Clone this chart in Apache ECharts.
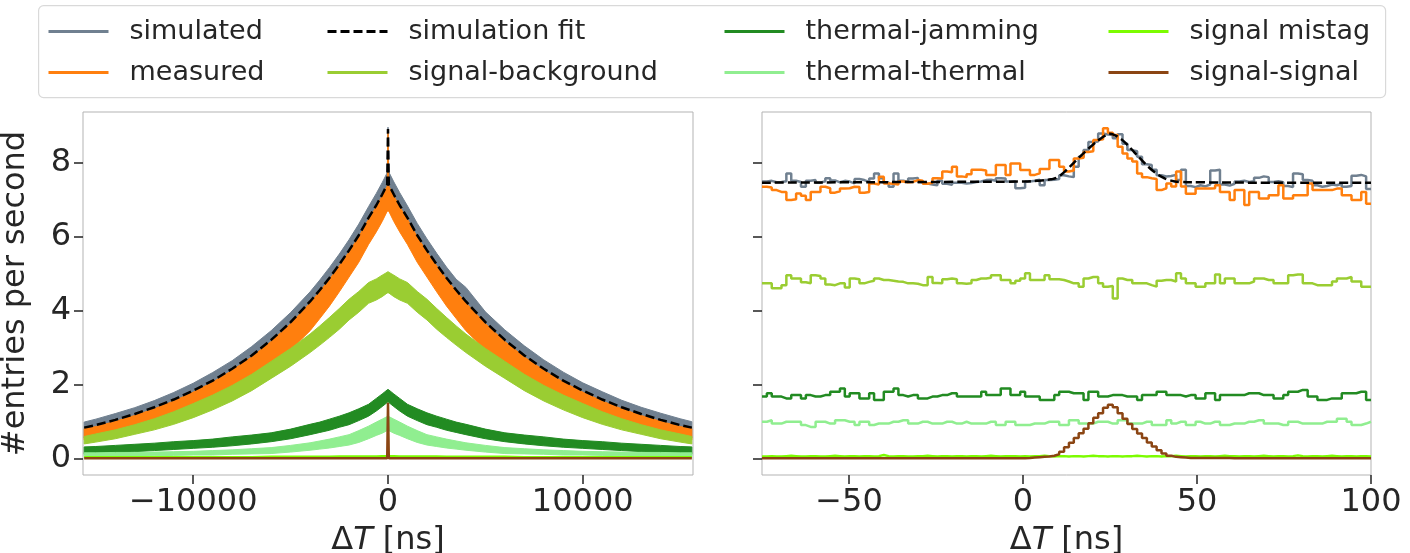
<!DOCTYPE html>
<html><head><meta charset="utf-8">
<script src="https://cdn.jsdelivr.net/npm/echarts@6/dist/echarts.min.js"></script>
<style>html,body{margin:0;padding:0;background:#fff}#c{width:1410px;height:553px}</style>
</head><body><div id="c"></div>
<script>
// ---------- tick labels ----------
const yTicks = [0, 2, 4, 6, 8];
const leftXTicks = [-10000, 0, 10000];
const rightXTicks = [-50, 0, 50, 100];
const legendNames = ['simulated', 'measured', 'simulation fit', 'signal-background',
                     'thermal-jamming', 'thermal-thermal', 'signal mistag', 'signal-signal'];

// ---------- left panel (wide range, ns) : band edges ----------
const leftT = [-15600,-15000,-14000,-13000,-12000,-11000,-10000,-9000,-8000,-7000,-6000,-5000,-4000,-3500,-3000,-2500,-2000,-1500,-1000,-600,-300,-40,0,40,300,600,1000,1500,2000,2500,3000,3500,4000,5000,6000,7000,8000,9000,10000,11000,12000,13000,14000,15000,15600];
const fitL   = [0.83,0.9,1.04,1.2,1.38,1.59,1.83,2.1,2.42,2.78,3.2,3.68,4.24,4.55,4.88,5.24,5.62,6.03,6.5,6.84,7.13,7.4,8.9,7.4,7.13,6.84,6.5,6.03,5.62,5.24,4.88,4.55,4.24,3.68,3.2,2.78,2.42,2.1,1.83,1.59,1.38,1.2,1.04,0.9,0.83];
const simHi  = [0.98,1.06,1.21,1.37,1.56,1.78,2.03,2.32,2.64,3.02,3.45,3.94,4.5,4.82,5.16,5.52,5.91,6.33,6.8,7.16,7.45,7.72,8.95,7.74,7.47,7.18,6.82,6.35,5.93,5.54,5.17,4.84,4.62,3.96,3.47,3.04,2.66,2.33,2.04,1.8,1.57,1.38,1.22,1.07,0.99];
const simLo  = [0.55,0.62,0.76,0.9,1.08,1.28,1.5,1.77,2.08,2.43,2.85,3.32,3.86,4.17,4.5,4.85,5.22,5.63,6.1,6.45,6.75,7.02,7.05,7.02,6.75,6.45,6.1,5.63,5.22,4.85,4.5,4.17,3.86,3.32,2.85,2.43,2.08,1.77,1.5,1.28,1.08,0.9,0.76,0.62,0.55];
const measHi = [0.8,0.86,1.0,1.16,1.34,1.55,1.79,2.06,2.38,2.74,3.16,3.64,4.2,4.51,4.84,5.2,5.58,5.99,6.46,6.8,7.09,7.36,8.9,7.36,7.09,6.8,6.46,5.99,5.58,5.2,4.84,4.51,4.2,3.64,3.16,2.74,2.38,2.06,1.79,1.55,1.34,1.16,1.0,0.86,0.8];
const measLo = [0.5,0.56,0.66,0.78,0.93,1.1,1.3,1.55,1.82,2.13,2.5,2.93,3.45,3.78,4.12,4.5,4.9,5.3,5.78,6.12,6.4,6.68,6.68,6.68,6.4,6.12,5.78,5.3,4.9,4.5,4.12,3.78,3.45,2.93,2.5,2.13,1.82,1.55,1.3,1.1,0.93,0.78,0.66,0.56,0.5];
const sbHi   = [0.59,0.66,0.77,0.91,1.07,1.26,1.48,1.71,1.97,2.27,2.62,2.97,3.36,3.58,3.81,4.05,4.3,4.51,4.75,4.85,4.95,5.03,5.05,5.03,4.95,4.85,4.75,4.51,4.3,4.05,3.81,3.58,3.36,2.97,2.62,2.27,1.97,1.71,1.48,1.26,1.07,0.91,0.77,0.66,0.59];
const sbLo   = [0.39,0.44,0.53,0.65,0.77,0.92,1.1,1.31,1.55,1.83,2.16,2.49,2.86,3.06,3.27,3.49,3.74,3.95,4.19,4.28,4.37,4.47,4.47,4.47,4.37,4.28,4.19,3.95,3.74,3.49,3.27,3.06,2.86,2.49,2.16,1.83,1.55,1.31,1.1,0.92,0.77,0.65,0.53,0.44,0.39];
const tjHi   = [0.31,0.32,0.35,0.38,0.41,0.45,0.48,0.52,0.58,0.63,0.69,0.79,0.92,0.98,1.06,1.14,1.23,1.34,1.46,1.62,1.74,1.85,1.87,1.85,1.74,1.62,1.46,1.34,1.23,1.14,1.06,0.98,0.92,0.79,0.69,0.63,0.58,0.52,0.48,0.45,0.41,0.38,0.35,0.32,0.31];
const tjLo   = [0.11,0.12,0.15,0.18,0.21,0.24,0.27,0.3,0.34,0.39,0.45,0.53,0.64,0.7,0.76,0.84,0.91,1.02,1.14,1.28,1.4,1.51,1.53,1.51,1.4,1.28,1.14,1.02,0.91,0.84,0.76,0.7,0.64,0.53,0.45,0.39,0.34,0.3,0.27,0.24,0.21,0.18,0.15,0.12,0.11];
const ttHi   = [0.15,0.15,0.16,0.16,0.17,0.18,0.19,0.21,0.23,0.26,0.29,0.35,0.42,0.47,0.52,0.58,0.64,0.75,0.87,0.98,1.06,1.13,1.14,1.13,1.06,0.98,0.87,0.75,0.64,0.58,0.52,0.47,0.42,0.35,0.29,0.26,0.23,0.21,0.19,0.18,0.17,0.16,0.16,0.15,0.15];
const ttLo   = [0.05,0.05,0.06,0.06,0.07,0.08,0.09,0.09,0.11,0.12,0.13,0.17,0.22,0.25,0.28,0.32,0.36,0.43,0.53,0.62,0.68,0.75,0.76,0.75,0.68,0.62,0.53,0.43,0.36,0.32,0.28,0.25,0.22,0.17,0.13,0.12,0.11,0.09,0.09,0.08,0.07,0.06,0.06,0.05,0.05];
const mistagL= [0.03,0.03,0.03,0.03,0.03,0.03,0.03,0.03,0.03,0.03,0.04,0.04,0.04,0.04,0.04,0.05,0.05,0.05,0.05,0.05,0.06,0.06,0.06,0.06,0.06,0.05,0.05,0.05,0.05,0.05,0.04,0.04,0.04,0.04,0.04,0.03,0.03,0.03,0.03,0.03,0.03,0.03,0.03,0.03,0.03];
const ssL    = [0,0,0,0,0,0,0,0,0,0,0,0,0,0,0,0,0,0,0,0,0,0,1.5,0,0,0,0,0,0,0,0,0,0,0,0,0,0,0,0,0,0,0,0,0,0];

// ---------- right panel (zoom, 1.4 ns bins from -75 ns) ----------
const binStart = -75, binWidth = 1.4;
const simR = [7.48,7.50,7.46,7.47,7.49,7.70,7.50,7.47,7.34,7.50, 7.52,7.45,7.49,7.57,7.51,7.46,7.50,7.48,7.43,7.55,
  7.52,7.47,7.56,7.70,7.57,7.46,7.34,7.70,7.50,7.47, 7.56,7.58,7.46,7.43,7.40,7.38,7.50,7.42,7.39,7.45,
  7.45,7.43,7.44,7.47,7.48,7.52,7.53,7.50,7.57,7.56, 7.48,7.49,7.30,7.31,7.48,7.50,7.53,7.38,7.52,7.53,
  7.55,7.65,7.62,7.60,7.88,8.15,8.33,8.55,8.56,8.78, 8.75,8.74,8.65,8.76,8.50,8.33,8.30,8.15,7.95,7.93,
  7.80,7.65,7.62,7.63,7.66,7.52,7.80,7.36,7.33,7.38, 7.35,7.40,7.78,7.80,7.40,7.37,7.42,7.48,7.50,7.47,
  7.49,7.58,7.62,7.60,7.47,7.49,7.46,7.36,7.33,7.70, 7.68,7.52,7.50,7.38,7.34,7.36,7.40,7.38,7.42,7.34,
  7.36,7.64,7.66,7.62,7.28];
const measR = [7.34,7.32,7.25,7.20,7.20,6.98,7.00,7.16,7.10,6.98, 7.20,7.20,7.34,7.30,7.18,7.22,7.29,7.30,7.34,7.33,
  7.18,7.20,7.43,7.40,7.61,7.43,7.42,7.40,7.48,7.46, 7.47,7.52,7.50,7.42,7.45,7.57,7.56,7.75,7.73,7.88,
  7.62,7.60,7.68,7.80,7.80,7.78,7.66,7.66,7.93,7.93, 7.66,7.97,7.97,7.79,7.79,7.66,7.70,7.82,7.82,8.06,
  8.06,7.88,7.75,7.78,8.10,8.12,8.28,8.30,8.60,8.62, 8.92,8.80,8.74,8.42,8.24,8.10,8.02,7.70,7.60,7.57,
  7.55,7.25,7.30,7.43,7.35,7.75,7.35,7.15,7.15,7.29, 7.29,7.29,7.30,7.38,7.20,7.20,6.98,7.25,7.25,6.85,
  7.20,7.20,7.02,7.02,7.11,7.11,7.38,7.02,7.02,7.11, 7.11,7.11,7.43,7.25,7.25,7.25,7.25,7.29,7.29,7.11,
  7.11,6.98,6.98,7.20,6.88];
const sbR = [4.73,4.73,4.60,4.60,4.68,4.95,4.86,4.86,4.76,4.73, 4.95,4.93,4.86,4.70,4.68,4.73,4.73,4.62,4.86,4.84,
  4.73,4.77,4.80,4.86,4.82,4.82,4.80,4.78,4.77,4.73, 4.73,4.72,4.68,4.68,4.90,4.74,4.73,4.84,4.86,4.84,
  4.73,4.72,4.73,4.82,4.86,4.86,4.88,4.95,4.95,4.82, 4.82,4.73,4.80,4.86,5.00,4.82,4.82,4.82,4.95,4.84,
  4.84,4.82,4.78,4.73,4.73,4.64,4.86,4.90,4.90,4.73, 4.64,4.66,4.32,4.86,4.82,4.82,4.73,4.73,4.73,4.68,
  4.64,4.80,4.82,4.82,4.78,5.00,4.86,4.73,4.73,4.64, 4.64,4.73,4.73,4.97,4.73,4.86,4.86,4.73,4.73,4.73,
  4.78,4.86,4.86,4.82,4.82,4.73,4.73,4.73,4.95,4.97, 4.97,4.73,4.73,4.68,4.68,4.68,4.68,4.78,4.86,4.86,
  4.90,4.78,4.78,4.64,4.64];
const tjR = [1.67,1.76,1.67,1.67,1.62,1.62,1.71,1.71,1.62,1.71, 1.67,1.67,1.71,1.71,1.80,1.80,1.89,1.67,1.76,1.76,
  1.62,1.62,1.76,1.58,1.58,1.80,1.80,1.89,1.71,1.67, 1.71,1.71,1.62,1.62,1.67,1.67,1.71,1.71,1.76,1.76,
  1.67,1.67,1.67,1.67,1.67,1.80,1.71,1.71,1.71,1.89, 1.89,1.71,1.71,1.80,1.67,1.67,1.67,1.58,1.58,1.58,
  1.71,1.80,1.80,1.76,1.76,1.76,1.58,1.80,1.80,1.67, 1.67,1.71,1.71,1.71,1.67,1.67,1.67,1.58,1.71,1.71,
  1.71,1.80,1.80,1.71,1.71,1.71,1.67,1.71,1.71,1.62, 1.62,1.76,1.76,1.58,1.71,1.71,1.71,1.71,1.71,1.76,
  1.76,1.76,1.71,1.71,1.71,1.62,1.62,1.71,1.80,1.80, 1.85,1.85,1.67,1.67,1.58,1.58,1.62,1.62,1.62,1.76,
  1.76,1.76,1.80,1.80,1.58];
const ttR = [0.99,1.03,0.94,0.94,0.99,0.99,0.99,0.99,0.90,0.85, 0.85,0.99,0.99,0.94,0.94,1.03,1.03,0.99,0.99,0.90,
  0.99,0.99,0.90,0.94,0.94,0.94,0.99,0.99,1.03,1.03, 0.94,0.94,0.99,0.99,0.94,0.94,0.94,0.99,0.99,0.94,
  0.94,0.99,0.94,0.94,0.94,0.94,0.99,0.99,0.90,0.90, 0.99,0.99,0.90,0.90,0.90,0.94,0.94,0.94,0.99,0.99,
  0.99,0.90,0.90,1.03,1.03,0.94,0.94,0.94,0.99,0.99, 0.99,0.94,0.94,1.03,1.03,0.94,0.94,0.94,0.99,0.99,
  0.90,0.90,0.90,1.03,0.94,0.99,0.99,0.90,0.90,0.99, 0.94,0.94,0.99,0.99,0.90,0.90,0.94,0.94,0.94,0.99,
  0.99,1.03,1.03,0.94,0.94,0.94,0.90,0.90,0.99,0.99, 0.94,0.94,0.94,0.94,0.94,0.99,0.99,0.99,1.07,1.07,
  0.99,0.90,0.90,0.94,0.99];
const mistagR = [0.05,0.06,0.05,0.05,0.06,0.07,0.06,0.05,0.05,0.06, 0.06,0.05,0.05,0.06,0.07,0.06,0.05,0.06,0.06,0.05,
  0.06,0.06,0.05,0.06,0.09,0.06,0.05,0.06,0.06,0.05, 0.05,0.06,0.06,0.07,0.06,0.05,0.06,0.06,0.05,0.06,
  0.06,0.05,0.06,0.06,0.05,0.06,0.07,0.06,0.05,0.06, 0.06,0.06,0.05,0.06,0.05,0.06,0.06,0.07,0.06,0.05,
  0.06,0.06,0.05,0.06,0.06,0.05,0.06,0.07,0.06,0.06, 0.05,0.06,0.06,0.05,0.06,0.06,0.07,0.06,0.05,0.06,
  0.06,0.05,0.06,0.06,0.07,0.06,0.05,0.06,0.06,0.05, 0.06,0.06,0.05,0.06,0.07,0.06,0.06,0.05,0.06,0.06,
  0.05,0.06,0.07,0.06,0.05,0.06,0.06,0.05,0.06,0.08, 0.06,0.05,0.06,0.06,0.05,0.06,0.07,0.06,0.05,0.06,
  0.06,0.05,0.06,0.06,0.05];
const ssR = [0,0,0,0,0,0,0,0,0,0, 0,0,0,0,0,0,0,0,0,0, 0,0,0,0,0,0,0,0,0,0, 0,0,0,0,0,0,0,0,0,0,
  0,0,0,0,0,0,0,0,0,0, 0,0,0,0.005,0.01,0.02,0.03,0.04,0.05,0.07,
  0.11,0.18,0.30,0.42,0.55,0.68,0.80,0.95,1.10,1.22, 1.37,1.45,1.38,1.22,1.07,0.93,0.79,0.67,0.55,0.43,
  0.32,0.22,0.13,0.07,0.04,0.03,0.02,0.01,0.01,0.01, 0.01,0.01,0.01,0.01,0.01,0.01,0,0,0,0,
  0,0,0,0,0,0,0,0,0,0, 0,0,0,0,0,0,0,0,0,0, 0,0,0,0,0];
const fitRX = [-75,-50,-25,0,4,8,10,12,14,16,18,20,22,24,25,26,28,30,32,34,36,38,40,42,45,50,75,100];
const fitRY = [7.45,7.46,7.47,7.48,7.5,7.54,7.6,7.75,7.93,8.12,8.3,8.47,8.62,8.74,8.77,8.75,8.64,8.47,8.27,8.07,7.88,7.72,7.6,7.52,7.47,7.46,7.45,7.45];

// ---------- colours ----------
const C = {
  sim: '#708090', meas: '#ff7f0e', fit: '#000000', sb: '#9acd32',
  tj: '#228b22', tt: '#90ee90', mis: '#7cfc00', ss: '#8b4513'
};
const FONT = 'DejaVu Sans';
const TXT = '#262626';

// ---------- helpers ----------
const pairs = (xs, ys) => xs.map((x, i) => [x, ys[i]]);
function steps(vals) {
  const pts = vals.map((v, i) => [binStart + i * binWidth, v]);
  pts.push([binStart + vals.length * binWidth, vals[vals.length - 1]]);
  return pts;
}
// noisy band on the left panel: polygon between lower and upper edge, placed through the axes
function band(key, lo, hi, color) {
  return {
    type: 'custom', name: key, xAxisIndex: 0, yAxisIndex: 0, silent: true,
    data: [[leftT[0], lo[0]]],
    renderItem: function (params, api) {
      const pts = [];
      for (let i = 0; i < leftT.length; i++) pts.push(api.coord([leftT[i], hi[i]]));
      for (let i = leftT.length - 1; i >= 0; i--) pts.push(api.coord([leftT[i], lo[i]]));
      return { type: 'polygon', shape: { points: pts },
               style: { fill: color, stroke: color, lineWidth: 1 } };
    }
  };
}
function stepLine(name, vals, color) {
  return { type: 'line', name: name, xAxisIndex: 1, yAxisIndex: 1, step: 'end',
    data: steps(vals), symbol: 'none', silent: true,
    lineStyle: { color: color, width: 2.5 }, itemStyle: { color: color } };
}
const minus = v => (v < 0 ? '\u2212' + Math.abs(v) : String(v));

const series = [
  band('simL', simLo, simHi, C.sim),
  band('measL', measLo, measHi, C.meas),
  { type: 'line', name: 'fitL', xAxisIndex: 0, yAxisIndex: 0, data: pairs(leftT, fitL),
    symbol: 'none', silent: true, lineStyle: { color: C.fit, width: 2.5, type: [9, 4] } },
  band('sbL', sbLo, sbHi, C.sb),
  band('tjL', tjLo, tjHi, C.tj),
  band('ttL', ttLo, ttHi, C.tt),
  { type: 'line', name: 'misL', xAxisIndex: 0, yAxisIndex: 0, data: pairs(leftT, mistagL),
    symbol: 'none', silent: true, lineStyle: { color: C.mis, width: 2.5 } },
  { type: 'line', name: 'ssL', xAxisIndex: 0, yAxisIndex: 0, data: pairs(leftT, ssL),
    symbol: 'none', silent: true, lineStyle: { color: C.ss, width: 2.5 } },
  stepLine('simulated', simR, C.sim),
  stepLine('measured', measR, C.meas),
  { type: 'line', name: 'simulation fit', xAxisIndex: 1, yAxisIndex: 1, data: pairs(fitRX, fitRY),
    smooth: true, symbol: 'none', silent: true, itemStyle: { color: C.fit },
    lineStyle: { color: C.fit, width: 2.5, type: [9, 4] } },
  stepLine('signal-background', sbR, C.sb),
  stepLine('thermal-jamming', tjR, C.tj),
  stepLine('thermal-thermal', ttR, C.tt),
  stepLine('signal mistag', mistagR, C.mis),
  stepLine('signal-signal', ssR, C.ss)
];

// legend: column-major 2 rows x 4 columns
const colLeft = [47, 326, 723, 1107];
const rowTop = [18, 59];
const legends = legendNames.map((n, k) => ({
  data: [n], left: colLeft[Math.floor(k / 2)], top: rowTop[k % 2], padding: 0,
  itemWidth: 60, itemHeight: 2, selectedMode: false,
  itemStyle: { opacity: 0 },
  lineStyle: { width: 3 },
  textStyle: { fontFamily: FONT, fontSize: 27, color: TXT, padding: [0, 0, 0, 16] }
}));

const tickStyle = { color: '#222', width: 1.5 };
const xName = 'Δ{i|T} [ns]';
const xNameStyle = { fontFamily: FONT, fontSize: 32, color: TXT,
  rich: { i: { fontFamily: FONT, fontStyle: 'italic', fontSize: 32, color: TXT } } };
function xAxisFor(grid, min, max, ticks) {
  return { type: 'value', gridIndex: grid, min: min, max: max,
    splitLine: { show: false }, axisLine: { show: false, onZero: false },
    axisTick: { show: true, length: 9, customValues: ticks, lineStyle: tickStyle },
    axisLabel: { customValues: ticks, formatter: minus, fontFamily: FONT, fontSize: 32, color: TXT, margin: 12 },
    name: xName, nameLocation: 'middle', nameGap: 50, nameMoveOverlap: false, nameTextStyle: xNameStyle };
}
function yAxisFor(grid, showLabels) {
  const ax = { type: 'value', gridIndex: grid, min: -0.45, max: 9.36,
    splitLine: { show: false }, axisLine: { show: false, onZero: false },
    axisTick: { show: true, length: 9, customValues: yTicks, lineStyle: tickStyle },
    axisLabel: showLabels ? { customValues: yTicks, fontFamily: FONT, fontSize: 32, color: TXT, margin: 12 } : { show: false } };
  if (showLabels) {
    ax.name = '#entries per second'; ax.nameLocation = 'middle'; ax.nameGap = 51;
    ax.nameMoveOverlap = false;
    ax.nameTextStyle = { fontFamily: FONT, fontSize: 32, color: TXT };
  }
  return ax;
}

const option = {
  animation: false,
  backgroundColor: '#ffffff',
  graphic: [{ type: 'rect', left: 38, top: 5, z: -10,
    shape: { width: 1347, height: 92, r: 5 },
    style: { fill: '#ffffff', stroke: '#d9d9d9', lineWidth: 1.2 } }],
  legend: legends,
  grid: [
    { left: 83, top: 112, width: 610, height: 363, show: true, borderColor: '#b3b3b3', borderWidth: 1, outerBoundsMode: 'none' },
    { left: 762, top: 112, width: 609, height: 363, show: true, borderColor: '#b3b3b3', borderWidth: 1, outerBoundsMode: 'none' }
  ],
  xAxis: [xAxisFor(0, -15660, 15660, leftXTicks), xAxisFor(1, -75, 100, rightXTicks)],
  yAxis: [yAxisFor(0, true), yAxisFor(1, false)],
  series: series
};

const chart = echarts.init(document.getElementById('c'), null, { renderer: 'canvas' });
chart.setOption(option);
</script></body></html>
